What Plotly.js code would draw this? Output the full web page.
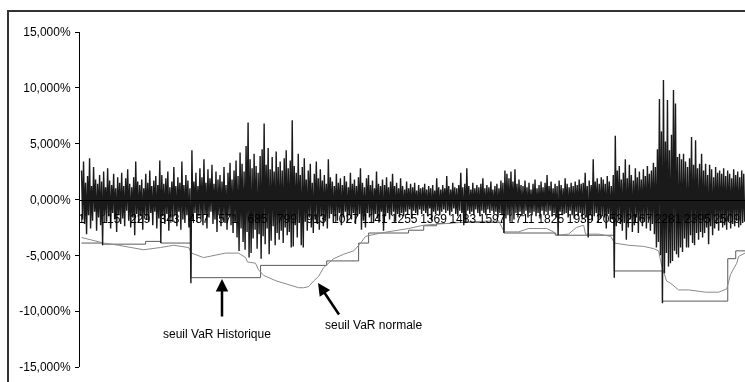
<!DOCTYPE html>
<html>
<head>
<meta charset="utf-8">
<script src="https://cdn.plot.ly/plotly-3.0.1.min.js"></script>
<style>
  html, body { margin: 0; padding: 0; width: 745px; height: 382px; overflow: hidden; background: #fff; }
  #chart { position: absolute; left: 0; top: 0; width: 745px; height: 382px; will-change: transform; }
  #cadre { position: absolute; left: 7px; top: 10px; width: 800px; height: 420px;
           border: 2px solid #333; pointer-events: none; }
</style>
</head>
<body>
<div id="chart"></div>
<div id="cadre"></div>
<script>
// Daily returns (%), sampled every 3.9 trading days, alternating highs and lows
const pasJours = 3.9;
const rendements = [
  2.6, -1.8, 3.4, -2.2, 1.5, -3.1, 2.1, -1.4, 3.7, -2.6, 1.2, -1.9, 2.9, -1.1, 1.8, -2.8, 1.4, -1.6, 2.2, -2.3,
  1.6, -4.1, 2.5, -1.3, 1.1, -2.0, 2.8, -1.5, 1.7, -2.6, 1.3, -1.2, 2.3, -1.8, 1.0, -2.9, 2.0, -1.4, 1.5, -2.2,
  2.4, -1.7, 1.2, -2.4, 1.9, -1.0, 2.7, -1.9, 1.4, -2.5, 1.1, -1.6, 2.0, -3.2, 3.4, -1.3, 1.6, -2.1, 1.3, -1.5,
  1.8, -2.7, 1.0, -1.4, 2.3, -1.8, 1.5, -2.0, 2.6, -1.2, 1.2, -2.3, 1.7, -1.1, 2.1, -2.6, 1.3, -1.7, 3.5, -3.9,
  2.2, -1.5, 1.4, -2.2, 1.9, -1.3, 2.5, -2.8, 1.1, -1.6, 1.6, -2.0, 2.9, -1.4, 1.2, -2.4, 2.0, -1.1, 1.5, -2.7,
  3.4, -1.8, 1.3, -2.1, 2.2, -1.4, 1.7, -2.5, 1.0, -7.5, 4.4, -1.9, 1.6, -1.2, 2.4, -2.0, 1.2, -1.5, 2.8, -1.7,
  2.0, -2.3, 3.6, -1.3, 1.5, -2.6, 2.7, -1.6, 1.9, -1.1, 3.1, -2.2, 1.4, -1.8, 2.5, -2.9, 1.8, -1.4, 2.2, -2.4,
  1.6, -1.9, 2.9, -2.1, 1.3, -2.7, 2.4, -1.5, 3.3, -2.3, 1.8, -3.0, 2.6, -2.0, 3.5, -3.4, 2.1, -4.6, 4.2, -2.6,
  3.2, -3.8, 2.5, -4.5, 4.8, -2.9, 6.9, -5.2, 3.6, -4.8, 2.8, -3.5, 4.1, -2.7, 3.0, -4.4, 2.4, -3.1, 3.9, -5.3,
  4.5, -3.3, 6.8, -4.0, 3.1, -2.6, 4.6, -4.9, 2.7, -3.7, 3.8, -2.4, 2.5, -4.1, 4.3, -3.0, 2.9, -3.6, 3.4, -2.8,
  2.6, -3.9, 3.7, -2.5, 4.4, -3.2, 2.8, -2.9, 3.5, -4.3, 7.1, -4.2, 3.0, -2.3, 2.4, -3.4, 4.1, -2.1, 2.2, -4.1,
  2.9, -4.3, 3.7, -2.0, 1.8, -2.8, 2.6, -1.6, 3.2, -2.5, 1.5, -3.0, 2.3, -1.8, 3.4, -2.2, 1.9, -2.7, 2.7, -1.5,
  1.7, -2.4, 2.2, -1.9, 1.4, -2.6, 3.6, -1.7, 2.0, -1.3, 1.6, -2.1, 1.2, -1.5, 2.3, -1.9, 1.5, -1.2, 1.9, -2.3,
  1.3, -1.6, 2.1, -1.1, 1.6, -2.0, 1.1, -1.4, 2.4, -1.8, 1.4, -1.2, 1.8, -2.2, 1.2, -1.5, 2.0, -1.3, 2.8, -2.7,
  1.5, -1.9, 1.1, -2.5, 1.9, -1.2, 2.2, -1.6, 1.3, -1.4, 1.7, -2.1, 1.0, -1.3, 2.5, -1.7, 1.4, -2.0, 1.2, -1.1,
  1.8, -2.8, 1.3, -1.5, 2.0, -1.2, 1.1, -1.8, 1.6, -1.4, 2.3, -1.1, 1.2, -2.0, 1.5, -1.3, 1.0, -1.6, 1.9, -1.2,
  1.2, -1.5, 0.9, -1.1, 1.6, -1.3, 1.0, -0.9, 1.4, -1.7, 1.1, -1.0, 1.5, -1.2, 0.8, -1.4, 1.3, -0.9, 1.0, -1.3,
  1.1, -1.0, 1.4, -1.2, 0.9, -1.5, 1.2, -0.8, 1.0, -1.9, 1.3, -1.1, 0.8, -1.3, 1.9, -1.0, 1.1, -1.4, 0.9, -1.1,
  1.3, -0.9, 1.0, -1.2, 2.1, -1.0, 1.2, -1.4, 0.9, -1.1, 1.5, -0.8, 1.1, -1.3, 1.0, -1.5, 1.3, -1.0, 2.4, -1.2,
  1.1, -2.3, 1.4, -2.1, 2.8, -1.0, 1.2, -1.3, 0.9, -1.1, 1.5, -1.4, 1.0, -0.9, 1.3, -1.2, 1.1, -1.5, 1.4, -1.0,
  1.9, -1.2, 1.0, -1.4, 1.3, -0.9, 1.1, -1.2, 1.6, -1.0, 0.9, -1.3, 1.2, -1.1, 1.4, -1.6, 1.0, -1.2, 1.7, -1.4,
  1.5, -3.0, 2.6, -1.7, 2.3, -1.4, 1.9, -2.0, 2.5, -1.3, 1.6, -1.8, 2.7, -1.2, 1.4, -1.6, 1.8, -1.1, 1.3, -1.5,
  1.2, -1.3, 1.7, -1.0, 1.1, -1.6, 1.5, -1.2, 0.9, -1.4, 1.4, -1.1, 1.8, -1.5, 1.0, -1.2, 1.3, -1.7, 1.6, -1.0,
  1.1, -1.4, 1.5, -1.1, 2.2, -1.3, 1.2, -1.0, 1.6, -1.5, 1.0, -1.2, 1.4, -1.6, 1.2, -3.2, 1.7, -1.1, 1.3, -1.4,
  1.0, -1.3, 1.9, -1.2, 1.4, -1.6, 1.1, -1.0, 1.5, -1.4, 1.2, -1.7, 1.6, -1.1, 1.3, -1.5, 1.8, -1.2, 1.4, -1.8,
  1.5, -1.3, 2.4, -1.6, 1.2, -3.4, 1.7, -1.4, 1.3, -1.9, 3.6, -1.5, 1.6, -1.2, 1.9, -2.1, 1.4, -1.7, 2.0, -1.5,
  1.8, -1.6, 1.4, -2.6, 2.1, -1.3, 1.6, -2.0, 1.2, -1.8, 2.2, -7.0, 5.7, -2.4, 2.6, -1.9, 3.0, -2.2, 1.8, -2.8,
  2.4, -2.1, 3.6, -3.6, 1.9, -2.5, 3.1, -1.8, 2.2, -2.9, 1.7, -2.3, 2.8, -1.6, 2.0, -3.0, 2.5, -1.9, 1.8, -2.4,
  2.7, -2.0, 2.1, -2.6, 3.0, -1.8, 2.3, -2.8, 2.6, -2.2, 3.3, -3.1, 2.9, -4.3, 4.5, -3.8, 9.0, -5.0, 6.1, -9.3,
  10.7, -6.6, 5.2, -4.8, 8.9, -6.0, 4.4, -5.7, 5.8, -5.5, 9.8, -4.6, 8.6, -4.9, 3.8, -5.2, 4.1, -4.3, 3.6, -4.7,
  4.1, -3.5, 3.4, -4.3, 2.9, -4.3, 3.7, -3.2, 5.6, -3.9, 3.1, -4.1, 5.3, -3.0, 2.8, -3.6, 3.2, -2.9, 4.1, -3.4,
  2.6, -3.0, 3.2, -2.5, 2.2, -4.0, 3.1, -2.4, 2.7, -3.2, 2.0, -2.6, 2.9, -2.2, 2.4, -2.8, 2.6, -2.1, 2.3, -2.5,
  2.8, -2.3, 2.1, -2.7, 2.6, -2.0, 2.3, -2.6, 1.9, -2.2, 2.7, -2.4, 2.2, -1.9, 2.5, -2.5, 2.0, -2.3, 2.6, -2.1,
  2.3, -2.0
];

// Historical VaR threshold: level changes (day, %), drawn as a step line
const varHistJours   = [1, 83, 250, 309, 426, 697, 954, 1078, 1117, 1272, 1331, 1381, 1436, 1643, 1844, 2072, 2259, 2513, 2544, 2580];
const varHistValeurs = [-3.9, -4.0, -3.75, -3.9, -7.0, -5.9, -5.5, -3.9, -3.0, -2.75, -2.35, -2.15, -2.05, -3.0, -3.2, -6.4, -9.1, -5.3, -4.6, -4.6];

// Normal (parametric) VaR threshold: (day, %)
const varNormJours = [1, 48, 87, 145, 203, 242, 308, 359, 417, 429, 475, 514, 561, 611, 639, 646, 677, 689, 709, 759,
  814, 845, 864, 884, 903, 922, 942, 981, 1020, 1059, 1086, 1105, 1164, 1272, 1331, 1389, 1428, 1506, 1622, 1644,
  1700, 1739, 1809, 1836, 1844, 1894, 1925, 1953, 1960, 2011, 2058, 2073, 2128, 2186, 2225, 2244, 2256, 2275, 2291, 2322,
  2361, 2400, 2427, 2478, 2509, 2524, 2548, 2555, 2580];
const varNormValeurs = [-3.4, -3.7, -3.9, -4.1, -4.3, -4.5, -4.3, -4.1, -4.3, -4.8, -5.2, -5.0, -4.8, -4.8, -5.2, -5.6, -5.7, -6.3, -6.8, -7.3,
  -7.7, -7.9, -7.9, -7.8, -7.3, -6.9, -6.1, -5.3, -4.9, -4.6, -3.9, -3.3, -3.0, -2.6, -2.3, -2.2, -2.1, -2.0, -1.9, -2.9,
  -2.9, -2.6, -2.6, -2.9, -3.2, -3.1, -2.5, -2.3, -3.1, -3.1, -3.3, -3.9, -4.1, -4.2, -4.4, -4.6, -5.9, -7.3, -7.5, -8.1,
  -8.1, -8.2, -8.3, -8.3, -8.0, -6.7, -5.7, -5.1, -4.8];

// Category labels shown along the zero line
const etiquettesX = ['1', '115', '229', '343', '457', '571', '685', '799', '913', '1027', '1141', '1255',
  '1369', '1483', '1597', '1711', '1825', '1939', '2053', '2167', '2281', '2395', '2509'];
const graduationsY = [15, 10, 5, 0, -5, -10, -15];
const etiquettesY = ['15,000%', '10,000%', '5,000%', '0,000%', '-5,000%', '-10,000%', '-15,000%'];

const joursRendements = rendements.map((_, i) => 1 + i * pasJours);
const police = { family: 'Liberation Sans, Arial, sans-serif', size: 12, color: '#000' };

const traces = [
  { x: varHistJours, y: varHistValeurs, type: 'scatter', mode: 'lines',
    line: { color: '#5a5a5a', width: 1, shape: 'hv' }, hoverinfo: 'skip' },
  { x: varNormJours, y: varNormValeurs, type: 'scatter', mode: 'lines',
    line: { color: '#8a8a8a', width: 1 }, hoverinfo: 'skip' },
  { x: joursRendements, y: rendements, type: 'scatter', mode: 'lines',
    line: { color: '#1a1a1a', width: 1.4, simplify: false }, hoverinfo: 'skip' }
];

const layout = {
  width: 745, height: 382,
  margin: { l: 80, r: 0, t: 32, b: 15 },
  paper_bgcolor: 'rgba(0,0,0,0)', plot_bgcolor: 'rgba(0,0,0,0)',
  showlegend: false,
  font: police,
  xaxis: {
    type: 'linear', range: [-5, 2580],
    anchor: 'free', position: 0.5,
    tickmode: 'array', tickvals: etiquettesX.map(Number), ticktext: etiquettesX,
    showline: true, linecolor: '#000', linewidth: 1,
    ticks: '', showgrid: false, zeroline: false,
    ticklabelstandoff: 8, tickfont: police
  },
  yaxis: {
    range: [-15, 15],
    tickmode: 'array', tickvals: graduationsY, ticktext: etiquettesY,
    showline: true, linecolor: '#000', linewidth: 1,
    ticks: 'outside', ticklen: 4, tickcolor: '#000', tickwidth: 1,
    showgrid: false, zeroline: false,
    ticklabelstandoff: 2, tickfont: police
  },
  annotations: [
    { xref: 'paper', yref: 'paper', x: (222 - 80) / 665, y: (367 - 279) / 335,
      text: '', showarrow: true, arrowhead: 2, arrowsize: 1, arrowwidth: 2.5, arrowcolor: '#000',
      ax: 0, ay: 39 },
    { xref: 'paper', yref: 'paper', x: (318 - 80) / 665, y: (367 - 283) / 335,
      text: '', showarrow: true, arrowhead: 2, arrowsize: 1, arrowwidth: 2.5, arrowcolor: '#000',
      ax: 22, ay: 33 },
    { xref: 'paper', yref: 'paper', x: (217 - 80) / 665, y: (367 - 334) / 335,
      text: 'seuil VaR Historique', showarrow: false, font: police, xanchor: 'center', yanchor: 'middle' },
    { xref: 'paper', yref: 'paper', x: (373 - 80) / 665, y: (367 - 325) / 335,
      text: 'seuil VaR normale', showarrow: false, font: police, xanchor: 'center', yanchor: 'middle' }
  ]
};

Plotly.newPlot('chart', traces, layout, { staticPlot: true, displayModeBar: false });
</script>
</body>
</html>
